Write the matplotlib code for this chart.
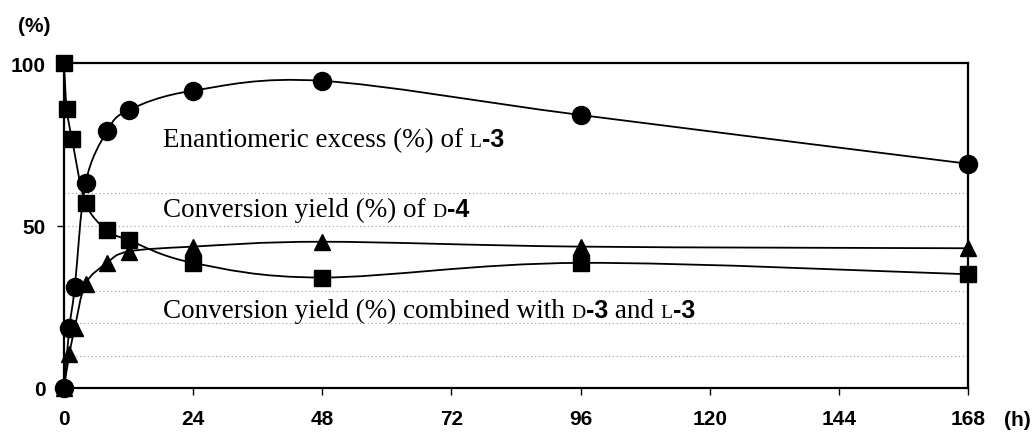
import matplotlib
matplotlib.use('Agg')
import matplotlib.pyplot as plt
from matplotlib.path import Path
from matplotlib.patches import PathPatch
from matplotlib.transforms import IdentityTransform
import numpy as np

# data
t_ee = [0, 1, 2, 4, 8, 12, 24, 48, 96, 168]
ee = [0, 18.5, 31, 63, 79, 85.5, 91.5, 94.5, 84, 69]

t_d4 = [0, 1, 2, 4, 8, 12, 24, 48, 96, 168]
d4 = [0, 10.5, 18.5, 32, 38.5, 42, 43.5, 45, 43.5, 43]

t_comb = [0, 0.5, 1.5, 4, 8, 12, 24, 48, 96, 168]
comb = [100, 86, 76.5, 57, 48.5, 45.5, 38.5, 34, 38.5, 35]

x_ticks = [0, 24, 48, 72, 96, 120, 144, 168]
y_ticks = [0, 50, 100]
grid_minor = [10, 20, 30, 60]

W, H = 1034, 435
fig = plt.figure(figsize=(W / 100, H / 100), dpi=100)
ax = fig.add_axes([64 / W, 1 - 389 / H, (968 - 64) / W, (389 - 64) / H])


def smooth_path(x, y):
    # excel style smoothed line: cubic bezier through the points
    p = np.column_stack([x, y]).astype(float)
    n = len(p)
    verts = [p[0]]
    codes = [Path.MOVETO]
    for i in range(n - 1):
        p0 = p[i - 1] if i > 0 else p[i]
        p3 = p[i + 2] if i + 2 < n else p[i + 1]
        c1 = p[i] + (p[i + 1] - p0) / 6
        c2 = p[i + 1] - (p3 - p[i]) / 6
        verts += [c1, c2, p[i + 1]]
        codes += [Path.CURVE4] * 3
    return Path(verts, codes)


for t, v, mk, ms in [(t_ee, ee, 'o', 13), (t_d4, d4, '^', 12), (t_comb, comb, 's', 12)]:
    ax.add_patch(PathPatch(smooth_path(t, v), fill=False, lw=1.3, color='black', zorder=3))
    ax.plot(t, v, ls='none', marker=mk, ms=ms, color='black', zorder=4, clip_on=False)

ax.set_xlim(0, 168)
ax.set_ylim(0, 100)
ax.set_xticks(x_ticks)
ax.set_yticks(y_ticks)
ax.set_yticks(grid_minor, minor=True)
ax.tick_params(axis='y', which='minor', length=0)
ax.grid(axis='y', which='both', color='#9a9a9a', lw=0.8, ls=(0, (1, 2.5)))
ax.set_axisbelow(True)
for s in ax.spines.values():
    s.set_linewidth(1.6)
ax.tick_params(axis='both', which='major', direction='out', length=5, width=1, labelsize=15)
ax.tick_params(axis='x', pad=10)
ax.tick_params(axis='y', pad=8)
for lab in ax.get_xticklabels() + ax.get_yticklabels():
    lab.set_fontweight('bold')
    lab.set_fontfamily('Liberation Sans')

fig.text(34 / W, 1 - 26 / H, '(%)', ha='center', va='center', fontsize=15,
         fontweight='bold', family='Liberation Sans')
fig.text(1017 / W, 1 - 421 / H, '(h)', ha='center', va='center', fontsize=15,
         fontweight='bold', family='Liberation Sans')

serif = dict(family='Liberation Serif', fontsize=19.5)
sc = dict(family='Liberation Serif', fontsize=14)
bold = dict(family='Liberation Sans', fontsize=18, fontweight='bold')

labels = [
    (163, 147, [('Enantiomeric excess (%) of ', serif), ('L', sc), ('-3', bold)]),
    (163, 217, [('Conversion yield (%) of ', serif), ('D', sc), ('-4', bold)]),
    (163, 318, [('Conversion yield (%) combined with ', serif), ('D', sc), ('-3', bold),
                (' and ', serif), ('L', sc), ('-3', bold)]),
]

renderer = fig.canvas.get_renderer()
for x0, y0, pieces in labels:
    x = x0
    for s, style in pieces:
        t = fig.text(x, H - y0, s, transform=IdentityTransform(), va='baseline',
                     ha='left', zorder=5, **style)
        x = t.get_window_extent(renderer).x1

fig.savefig('out.png', dpi=100)
